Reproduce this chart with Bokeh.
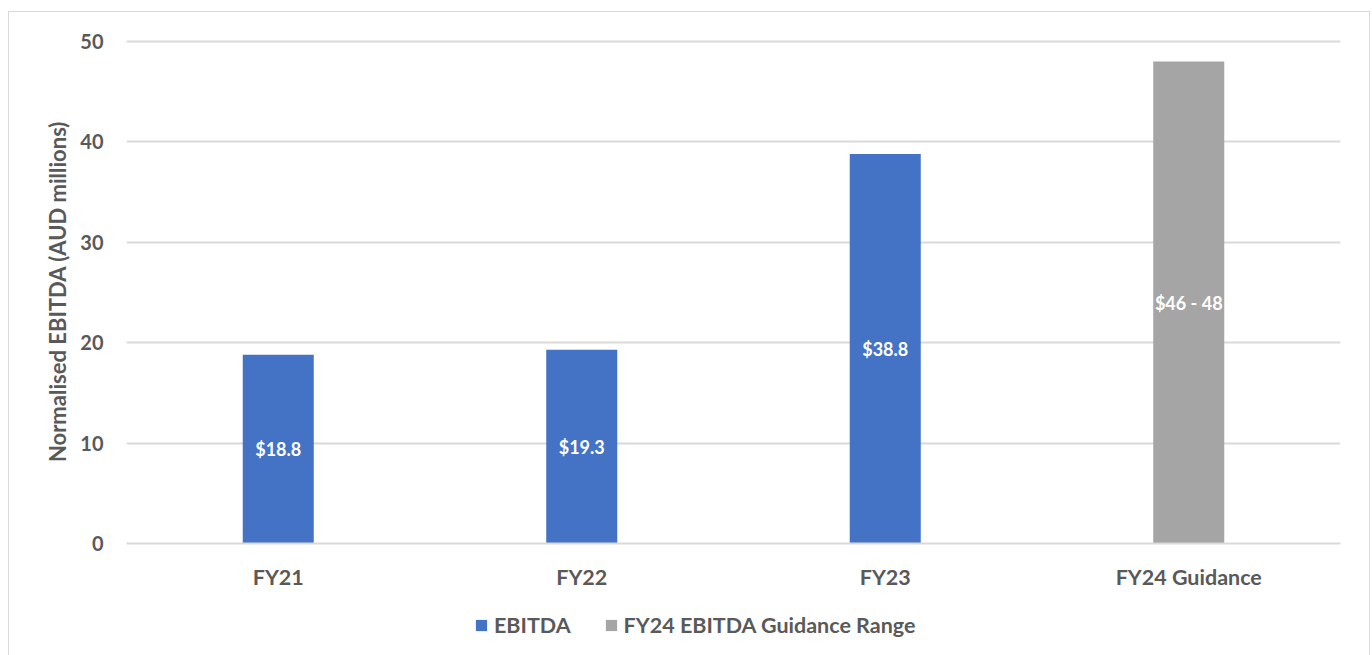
from bokeh.plotting import figure
from bokeh.layouts import column
from bokeh.models import ColumnDataSource, Range1d, Legend, LegendItem
from bokeh.core.properties import value
from bokeh.embed import file_html
from bokeh.resources import INLINE

# ---- data ----
categories = ["FY21", "FY22", "FY23", "FY24 Guidance"]
ebitda_cats = ["FY21", "FY22", "FY23"]
ebitda_values = [18.8, 19.3, 38.8]
ebitda_labels = ["$18.8", "$19.3", "$38.8"]
guidance_cats = ["FY24 Guidance"]
guidance_low = [46]
guidance_high = [48]
guidance_labels = ["$46 - 48"]
y_ticks = [0, 10, 20, 30, 40, 50]
series_names = ["EBITDA", "FY24 EBITDA Guidance Range"]

FONT = "Lato"
TXT = "#595959"
BLUE = "#4472C4"
GRAY = "#A5A5A5"
GRID = "#D9D9D9"
NAN = float("nan")

p = figure(
    x_range=categories,
    y_range=Range1d(0, 50.2),
    width=1360,
    height=587,
    output_backend="svg",
    toolbar_location=None,
    min_border_left=117,
    min_border_right=29,
    min_border_top=27,
    min_border_bottom=56,
)
p.outline_line_color = None

src_e = ColumnDataSource(dict(
    x=ebitda_cats, top=ebitda_values, mid=[v / 2 for v in ebitda_values], label=ebitda_labels))
src_g = ColumnDataSource(dict(
    x=guidance_cats, top=guidance_high, mid=[v / 2 for v in guidance_high], label=guidance_labels))

p.vbar(x="x", top="top", width=0.234, source=src_e, fill_color=BLUE, line_color=None)
p.vbar(x="x", top="top", width=0.234, source=src_g, fill_color=GRAY, line_color=None)

for src in (src_e, src_g):
    p.text(x="x", y="mid", text="label", source=src, text_color="white",
           text_font=value(FONT), text_font_style="bold", text_font_size="18px",
           text_align="center", text_baseline="middle")

# axes
p.yaxis.ticker = y_ticks
p.yaxis.axis_line_color = None
p.yaxis.major_tick_line_color = None
p.yaxis.minor_tick_line_color = None
p.yaxis.major_label_standoff = 17
p.yaxis.major_label_text_font = FONT
p.yaxis.major_label_text_font_style = "bold"
p.yaxis.major_label_text_font_size = "20px"
p.yaxis.major_label_text_color = TXT
p.yaxis.axis_label = "Normalised EBITDA (AUD millions)"
p.yaxis.axis_label_text_font = FONT
p.yaxis.axis_label_text_font_style = "bold"
p.yaxis.axis_label_text_font_size = "22px"
p.yaxis.axis_label_text_color = TXT
p.yaxis.axis_label_standoff = 6

p.xaxis.axis_line_color = GRID
p.xaxis.axis_line_width = 2
p.xaxis.major_tick_line_color = None
p.xaxis.minor_tick_line_color = None
p.xaxis.major_label_standoff = 14
p.xaxis.major_label_text_font = FONT
p.xaxis.major_label_text_font_style = "bold"
p.xaxis.major_label_text_font_size = "21.5px"
p.xaxis.major_label_text_color = TXT

p.xgrid.grid_line_color = None
p.ygrid.grid_line_color = GRID
p.ygrid.grid_line_width = 2

# legend strip (separate small figure so the legend is not clipped)
lf = figure(
    width=1360, height=56,
    x_range=Range1d(0, 1), y_range=Range1d(0, 1),
    output_backend="svg", toolbar_location=None,
    x_axis_type=None, y_axis_type=None,
    min_border=0,
)
lf.outline_line_color = None
lf.xgrid.grid_line_color = None
lf.ygrid.grid_line_color = None
le = lf.quad(left=[NAN], right=[NAN], top=[NAN], bottom=[NAN], fill_color=BLUE, line_color=None)
lg = lf.quad(left=[NAN], right=[NAN], top=[NAN], bottom=[NAN], fill_color=GRAY, line_color=None)

legend = Legend(
    items=[LegendItem(label=series_names[0], renderers=[le]),
           LegendItem(label=series_names[1], renderers=[lg])],
    orientation="horizontal",
    location=(348, 17),
    glyph_width=14, glyph_height=14,
    label_standoff=6, spacing=33, padding=0, margin=0,
    label_text_font=FONT, label_text_font_style="bold",
    label_text_font_size="21.5px", label_text_color=TXT,
    border_line_color=None, background_fill_alpha=0,
)
lf.add_layout(legend, "center")

layout = column(p, lf, spacing=0)
layout.margin = (11, 0, 0, 8)
layout.styles = {"border": "1px solid #D9D9D9"}

open("out.html", "w").write(file_html(layout, INLINE))
